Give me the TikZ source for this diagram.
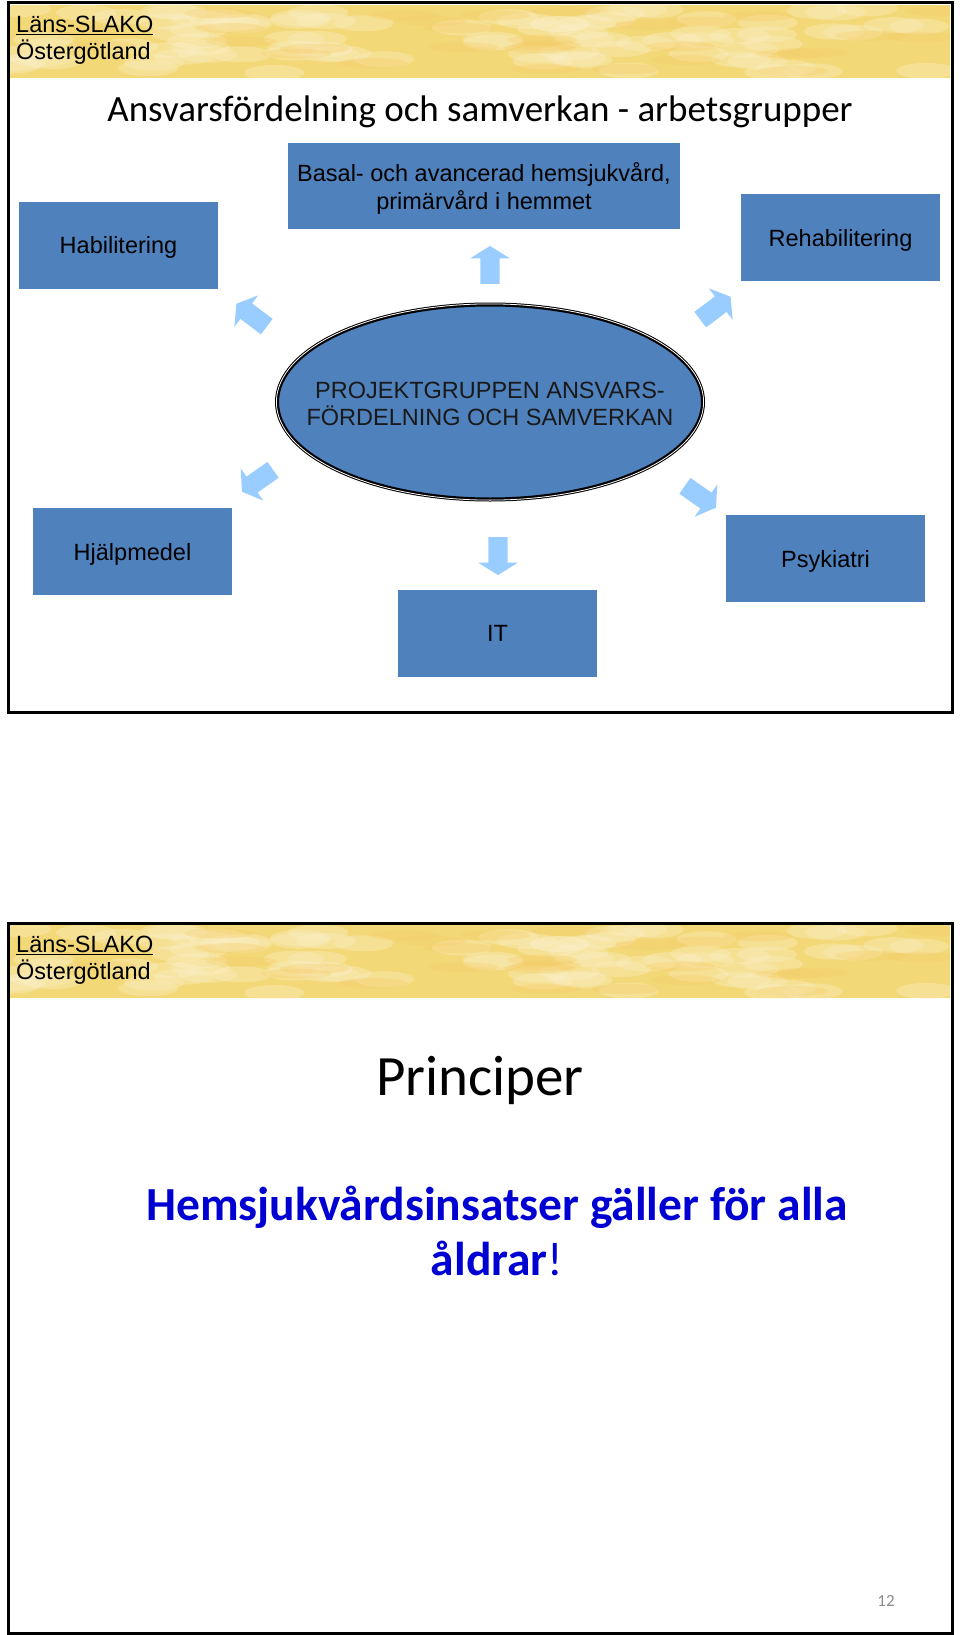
\documentclass[tikz,border=0pt]{standalone}
\usepackage{fontspec}
\setmainfont{Liberation Sans}
\newfontfamily\calibri{Carlito}
\usetikzlibrary{positioning}
\usetikzlibrary{shapes.geometric,shapes.arrows}

\definecolor{boxblue}{HTML}{4F81BD}
\definecolor{arrowblue}{HTML}{99CCFF}
\definecolor{bandgold}{HTML}{F3D878}
\definecolor{bandlight}{HTML}{FBF0C8}
\definecolor{textblue}{HTML}{0000D2}

\tikzset{
  grpbox/.style={fill=boxblue, minimum width=199, minimum height=87, inner sep=0,
    align=center, text depth=0pt, font=\fontsize{23.5}{28}\selectfont},
  blockarrow/.style={single arrow, fill=arrowblue, inner xsep=0, inner ysep=9.5,
    minimum height=38, single arrow head extend=10, single arrow tip angle=116},
  hdrtext/.style={anchor=west, inner sep=0, font=\fontsize{23.5}{28}\selectfont}
}

\begin{document}
\begin{tikzpicture}[x=1pt,y=1pt]
\useasboundingbox (0,0) rectangle (960,-1635);

\foreach \yo/\frameend in {0/712,920/1633} {
  \begin{scope}[yshift=-\yo]
    \begin{scope}
      \clip (10,-5) rectangle (950,-78);
      \fill[bandgold] (10,-5) rectangle (950,-78);
      \pgfmathsetseed{11}
      \foreach \i in {1,...,90} {
        \pgfmathsetmacro\bx{10+940*rnd}
        \pgfmathsetmacro\by{-8-66*rnd}
        \fill[bandlight, opacity=0.35] (\bx,\by) ellipse [x radius=30, y radius=8];
      }
      \foreach \i in {1,...,30} {
        \pgfmathsetmacro\bx{10+940*rnd}
        \pgfmathsetmacro\by{-8-66*rnd}
        \fill[bandgold!85!orange, opacity=0.3] (\bx,\by) ellipse [x radius=35, y radius=5];
      }
    \end{scope}
    \node[hdrtext] (lans\yo) at (16,-25) {\underline{Läns-SLAKO}};
    \node[hdrtext] (ostg\yo) at (16,-52) {Östergötland};
  \end{scope}
  \draw[line width=3] (8,-3-\yo) rectangle (952,-\frameend);
}

\node[font=\calibri\fontsize{37}{44}\selectfont] (title) at (480,-112)
  {Ansvarsfördelning och samverkan - arbetsgrupper};

\node[grpbox, minimum width=392, minimum height=86] (basal) at (484,-186)
  {Basal- och avancerad hemsjukvård,\\primärvård i hemmet};
\node[grpbox] (habil) at (118.5,-245) {Habilitering};
\node[grpbox] (rehab) at (840.5,-237.5) {Rehabilitering};
\node[grpbox] (hjalp) at (132.5,-551.5) {Hjälpmedel};
\node[grpbox] (psyk) at (825.5,-558.5) {Psykiatri};
\node[grpbox] (it) at (497.5,-633) {IT};

\coordinate (projc) at (490,-402);
\fill[boxblue] (projc) ellipse [x radius=214, y radius=98.5];
\draw[line width=4] (projc) ellipse [x radius=213, y radius=97.5];
\draw[white, line width=0.8] (projc) ellipse [x radius=213.6, y radius=98.1];
\node[align=center, inner sep=0, text=black!90,
  font=\fontsize{23.5}{27.5}\selectfont] (proj) at ([yshift=-2]projc)
  {PROJEKTGRUPPEN ANSVARS-\\FÖRDELNING OCH SAMVERKAN};

\node[blockarrow, rotate=90] (arrup) at (490,-268) {};
\node[blockarrow, rotate=143] (arrul) at (254,-317) {};
\node[blockarrow, rotate=37] (arrur) at (713,-310) {};
\node[blockarrow, rotate=215] (arrll) at (260,-479) {};
\node[blockarrow, rotate=-35] (arrlr) at (698,-495) {};
\node[blockarrow, rotate=-90] (arrdn) at (498,-553) {};

\node[font=\calibri\fontsize{57}{68}\selectfont] (princ) at (480,-1080) {Principer};
\node[text=textblue, align=center, font=\calibri\bfseries\fontsize{47.5}{55}\selectfont]
  (alla) at (497,-1231)
  {Hemsjukvårdsinsatser gäller för alla\\åldrar{\mdseries !}};
\node[text=black!45, font=\calibri\fontsize{17}{20}\selectfont] (pnum) at (886,-1601) {12};

\end{tikzpicture}
\end{document}
